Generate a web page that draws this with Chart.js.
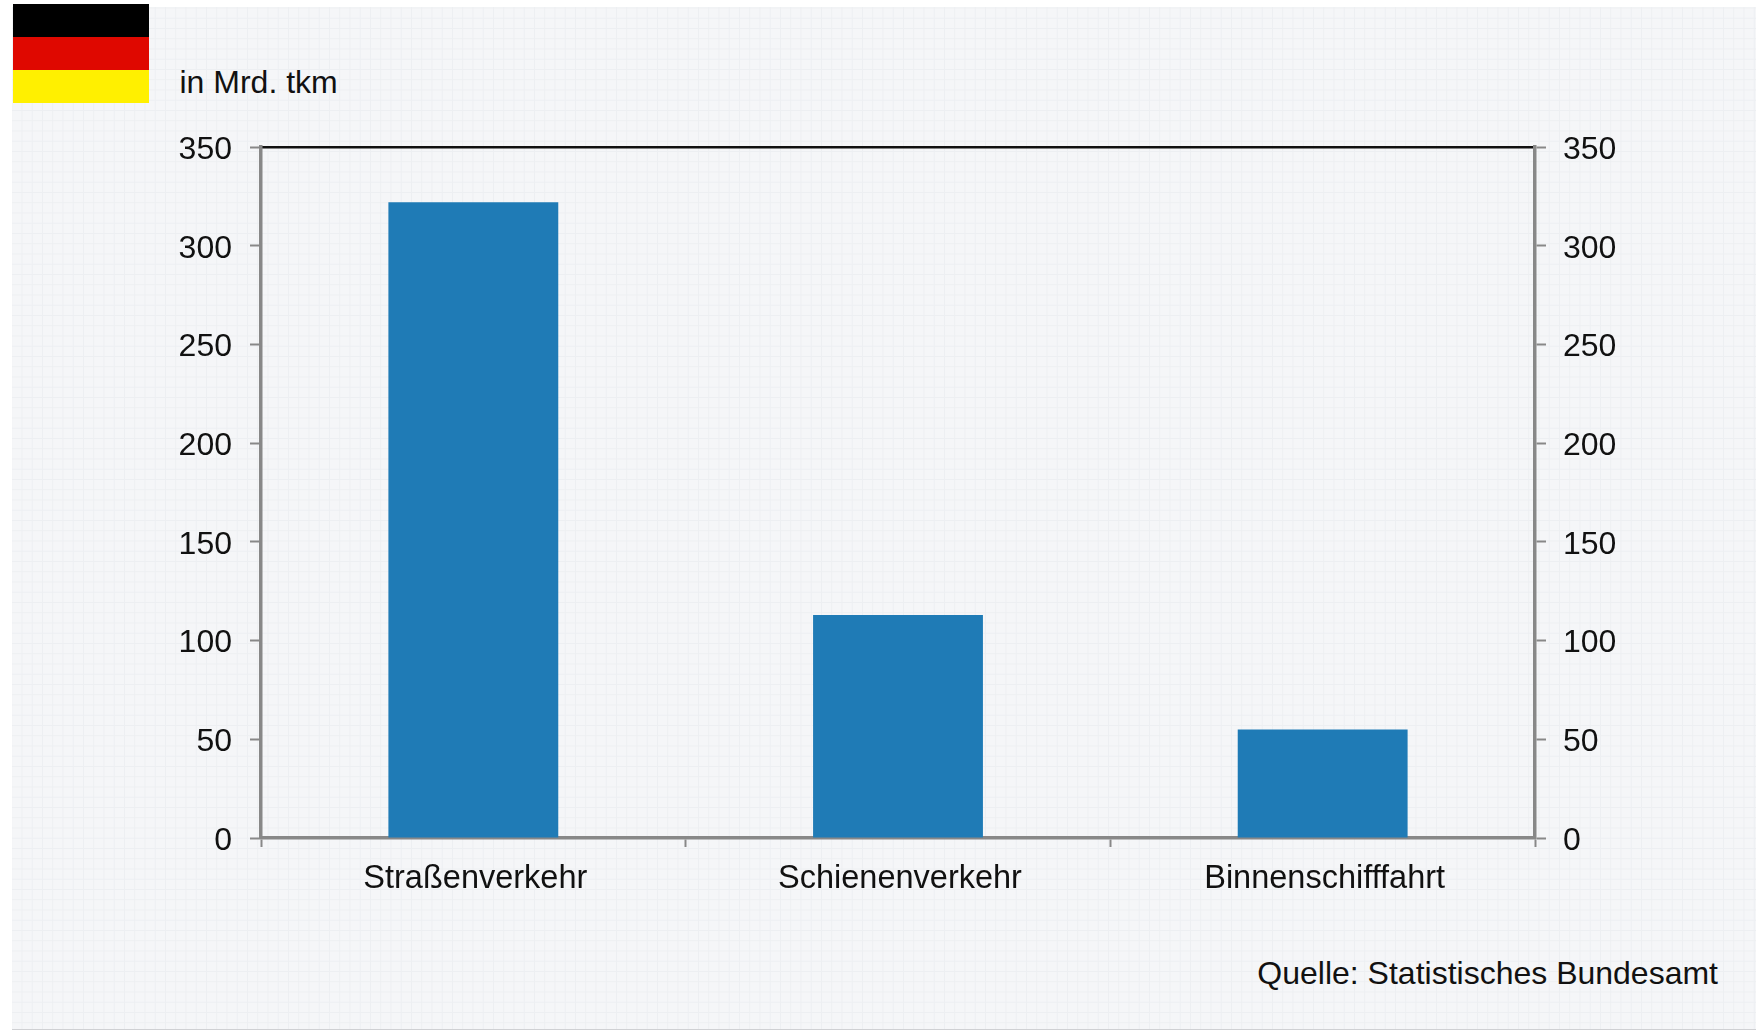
<!DOCTYPE html>
<html lang="de">
<head>
<meta charset="utf-8">
<title>Güterverkehr</title>
<script src="https://cdn.jsdelivr.net/npm/chart.js@4"></script>
<style>
html,body{margin:0;padding:0;background:#fff;width:1756px;height:1030px;overflow:hidden;font-family:"Liberation Sans",Arial,sans-serif;color:#111}
#panel{position:absolute;left:12px;top:7px;width:1744px;height:1022px;background-color:#f5f6f8;
background-image:linear-gradient(to right,#edeff2 1px,transparent 1px),linear-gradient(to bottom,#edeff2 1px,transparent 1px);
background-size:10.25px 10.25px;background-position:9.5px 0.5px;border-bottom:1px solid #cfd0d3}
.flag{position:absolute;left:13px;width:136px;height:33px}
canvas{position:absolute;left:0;top:0}
.t{position:absolute;font-size:32px;line-height:36px;white-space:nowrap}
</style>
</head>
<body>
<div id="panel"></div>
<div class="flag" style="top:4px;background:#000"></div>
<div class="flag" style="top:37px;background:#df0800"></div>
<div class="flag" style="top:70px;background:#fff000"></div>
<div class="t" id="unit" style="left:179.5px;top:64px">in Mrd. tkm</div>
<div class="t" id="src" style="right:38px;top:955px">Quelle: Statistisches Bundesamt</div>
<canvas id="c" width="1756" height="1030"></canvas>
<script>
const categories = ["Straßenverkehr", "Schienenverkehr", "Binnenschifffahrt"];
const values = [322, 113, 55];
const axisMin = 0;
const axisMax = 350;
const axisStep = 50;

const GREY = "#888888";
const FONT = {family: '"Liberation Sans", Arial, sans-serif', size: 32};
const FONT_X = {family: '"Liberation Sans", Arial, sans-serif', size: 32.5};
const INK = "#111111";

function yAxis(position, padding, width) {
  return {
    position, min: axisMin, max: axisMax,
    afterFit(s) { s.width = width; },
    border: {color: GREY, width: 3.5},
    grid: {drawOnChartArea: false, drawTicks: true, tickLength: 11, tickColor: GREY, tickWidth: 2},
    ticks: {stepSize: axisStep, color: INK, font: FONT, padding, labelOffset: 3}
  };
}

new Chart(document.getElementById("c"), {
  type: "bar",
  data: {
    labels: categories,
    datasets: [{data: values, backgroundColor: "#1f7bb6", borderWidth: 0,
      barPercentage: 0.4, categoryPercentage: 1, yAxisID: "y"}]
  },
  options: {
    responsive: false, animation: false, devicePixelRatio: 1,
    layout: {padding: {top: 147, left: 0, right: 0, bottom: 0}},
    plugins: {legend: {display: false}, tooltip: {enabled: false}, title: {display: false}},
    scales: {
      x: {
        position: "bottom",
        afterFit(s) { s.height = 192; },
        border: {color: GREY, width: 3.5},
        grid: {drawOnChartArea: false, drawTicks: true, tickLength: 9, tickColor: GREY, tickWidth: 2},
        ticks: {color: INK, font: FONT_X, padding: 13, maxRotation: 0, labelOffset: 2}
      },
      top: {
        type: "category", labels: categories, position: "top",
        afterFit(s) { s.height = 0; },
        border: {color: "#111111", width: 2.5},
        grid: {display: false, drawTicks: false},
        ticks: {display: false}
      },
      y: yAxis("left", 18, 261),
      y1: yAxis("right", 17, 221)
    }
  }
});
</script>
</body>
</html>
